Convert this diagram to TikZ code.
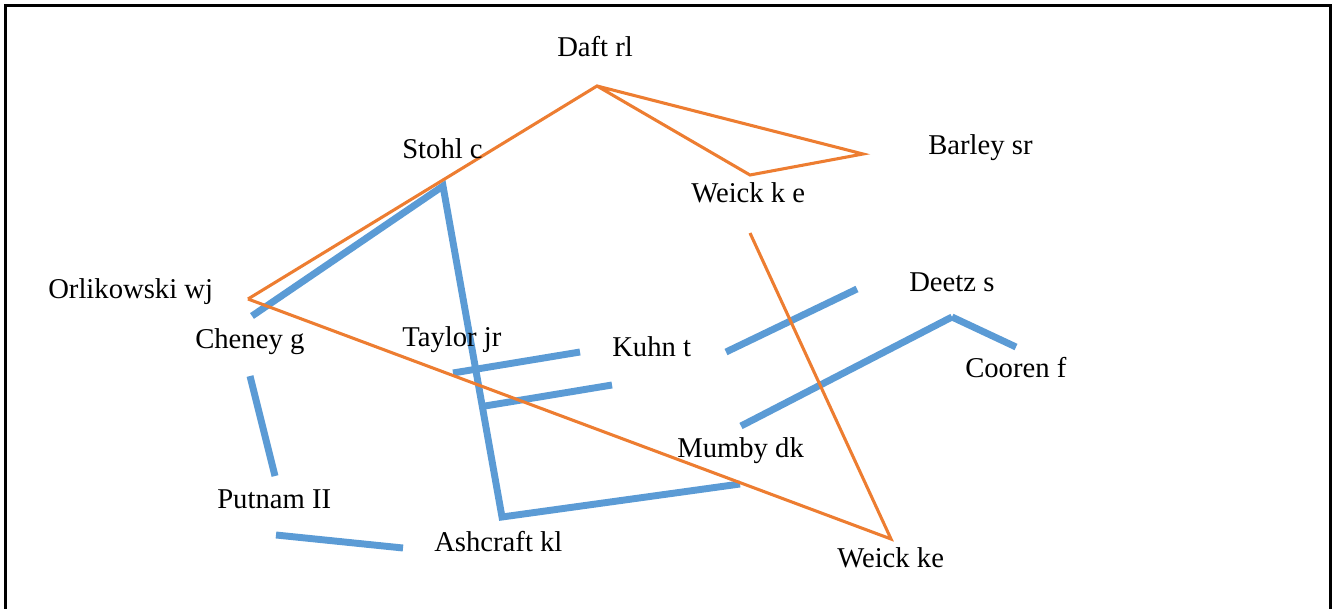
\documentclass[tikz,border=0pt]{standalone}
\usepackage{fontspec}
\setmainfont{Liberation Serif}
\definecolor{tieorange}{HTML}{ED7D31}
\definecolor{tieblue}{HTML}{5B9BD5}
\begin{document}
\begin{tikzpicture}[x=0.75pt,y=-0.75pt,
  lbl/.style={anchor=base west,inner sep=0pt,font=\fontsize{21.5}{24}\selectfont},
  otie/.style={draw=tieorange,line width=2.3pt,line join=miter},
  btie/.style={draw=tieblue,line width=5.2pt,line join=miter},
  frameline/.style={draw=black,line width=2.4pt}]
\useasboundingbox (0,0) rectangle (1334,609);
% frame
\coordinate (fbl) at (5.5,612);
\coordinate (ftl) at (5.5,5.5);
\coordinate (ftr) at (1330.5,5.5);
\coordinate (fbr) at (1330.5,612);
\draw[frameline] (fbl) -- (ftl) -- (ftr) -- (fbr);
% endpoints
\coordinate (pDaft) at (597,86);
\coordinate (pOrlik) at (248,299);
\coordinate (pWke) at (750,175);
\coordinate (pBarley) at (863,154);
\coordinate (pWkeLow) at (750,233);
\coordinate (pWeick) at (891,539);
\coordinate (pCheneyT) at (252,316);
\coordinate (pStohl) at (443,186);
\coordinate (pAsh) at (502,517);
\coordinate (pMumbyR) at (740,484);
\coordinate (pCheneyB) at (250,376);
\coordinate (pPutnamT) at (275,476);
\coordinate (pPutnamB) at (276,535);
\coordinate (pAshL) at (403,548);
\coordinate (pTay1) at (453,373);
\coordinate (pKuhn1) at (580,352);
\coordinate (pTay2) at (485,406);
\coordinate (pKuhn2) at (612,385);
\coordinate (pKuhnR) at (726,352);
\coordinate (pDeetzL) at (857,289);
\coordinate (pMumbyT) at (741,426);
\coordinate (pDeetz) at (952,317);
\coordinate (pCooren) at (1016,347);
% blue ties
\draw[btie] (pCheneyT) -- (pStohl) -- (pAsh) -- (pMumbyR);
\draw[btie] (pCheneyB) -- (pPutnamT);
\draw[btie] (pPutnamB) -- (pAshL);
\draw[btie] (pTay1) -- (pKuhn1);
\draw[btie] (pTay2) -- (pKuhn2);
\draw[btie] (pKuhnR) -- (pDeetzL);
\draw[btie] (pMumbyT) -- (pDeetz);
\draw[btie] (pDeetz) -- (pCooren);
% orange ties
\draw[otie] (pOrlik) -- (pDaft) -- (pWke) -- (pBarley) -- (pDaft);
\draw[otie] (pOrlik) -- (pWeick) -- (pWkeLow);
% labels (on top of the ties)
\node[lbl] (daft) at (557,57) {Daft rl};
\node[lbl] (stohl) at (402,159) {Stohl c};
\node[lbl] (barley) at (928,155) {Barley sr};
\node[lbl] (weickke1) at (691,203) {Weick k e};
\node[lbl] (orlik) at (48,299) {Orlikowski wj};
\node[lbl] (cheney) at (195,349) {Cheney g};
\node[lbl] (taylor) at (402,347) {Taylor jr};
\node[lbl] (kuhn) at (612,356) {Kuhn t};
\node[lbl] (deetz) at (909,292) {Deetz s};
\node[lbl] (cooren) at (965,378) {Cooren f};
\node[lbl] (mumby) at (677,457) {Mumby dk};
\node[lbl] (putnam) at (217,508) {Putnam II};
\node[lbl] (ashcraft) at (434,551) {Ashcraft kl};
\node[lbl] (weickke2) at (837,567) {Weick ke};
\end{tikzpicture}
\end{document}
